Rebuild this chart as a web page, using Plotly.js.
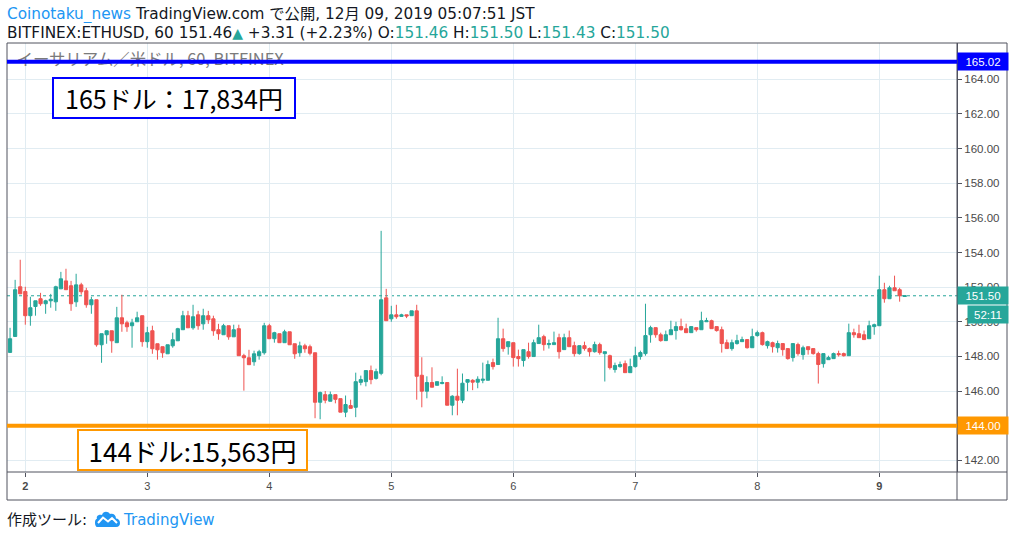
<!DOCTYPE html>
<html><head><meta charset="utf-8">
<script src="https://cdn.plot.ly/plotly-3.0.1.min.js"></script>
<style>html,body{margin:0;padding:0;background:#fff;overflow:hidden}#chart{width:1014px;height:537px}</style>
</head><body><div id="chart"></div>
<script>
// ---- data (ETHUSD, BITFINEX, 60 min) ----
const firstCandle = '2019-12-01 21:00';
const openP = [148.23,149.15,152.02,151.75,150.35,150.88,151.33,151.04,151.21,151.15,151.90,152.36,152.08,151.15,152.13,151.79,150.98,151.27,148.67,149.25,
149.48,148.79,150.23,149.94,149.77,150.00,150.35,148.85,149.48,148.73,148.56,148.15,148.61,148.90,149.54,150.35,149.65,150.40,149.88,150.35,
150.17,149.54,149.25,149.77,149.13,149.60,148.04,147.92,147.69,148.04,148.21,149.77,149.02,149.31,148.79,149.42,148.73,148.21,148.61,148.56,
148.21,145.35,145.79,145.41,145.79,145.56,144.78,145.16,145.06,146.50,146.54,147.18,146.73,147.02,151.38,150.17,150.40,150.31,150.40,150.35,
150.63,146.91,145.99,146.49,146.33,146.43,146.49,145.18,145.70,145.47,146.51,146.62,146.51,146.62,146.62,147.64,147.53,149.02,148.56,148.79,
147.99,147.76,148.27,147.99,148.74,149.14,148.68,148.68,149.08,148.39,149.08,148.62,148.16,148.62,148.45,148.27,148.68,148.16,148.04,147.24,
147.41,147.58,147.06,147.41,147.99,148.16,149.25,149.66,149.25,148.91,149.25,149.49,149.72,149.60,149.37,149.66,149.54,150.00,150.06,149.72,
149.54,148.79,148.45,148.74,148.85,148.97,148.50,149.20,149.37,148.62,148.79,148.50,148.74,148.45,147.93,148.68,148.10,148.56,148.45,148.16,
147.58,147.81,147.87,148.16,148.16,148.04,149.37,149.31,149.25,149.02,149.72,149.77,151.85,151.33,151.96,151.85,151.46];
const highP = [149.65,152.42,153.58,152.02,151.44,151.21,151.67,151.27,151.61,152.08,152.88,153.06,152.36,152.77,152.25,151.96,151.44,151.27,149.31,149.48,
149.48,150.86,151.56,150.06,150.17,150.58,150.35,149.71,149.77,148.73,148.56,148.67,149.37,149.65,150.63,150.63,150.98,150.63,150.75,150.63,
150.35,149.88,149.88,149.77,149.83,149.83,148.15,148.38,148.33,148.38,149.94,149.88,149.42,149.31,149.54,149.42,148.73,148.85,148.73,148.68,
148.21,145.97,146.00,145.97,145.79,145.56,145.74,145.50,147.06,146.89,147.18,147.47,147.29,155.25,151.90,150.92,150.98,150.46,150.40,150.63,
150.98,147.95,146.85,147.37,146.54,146.85,146.49,145.76,147.29,147.01,146.66,146.68,146.85,147.64,147.76,147.87,150.23,149.60,148.85,148.79,
148.39,148.39,148.79,148.97,149.83,149.25,148.97,149.43,149.31,149.31,149.49,148.85,148.62,148.85,148.51,148.85,148.79,148.27,148.10,147.64,
147.70,147.76,147.87,148.56,148.33,151.04,149.77,149.66,149.37,149.49,150.06,150.00,150.18,149.89,149.72,149.66,150.58,150.23,150.12,149.72,
149.72,148.97,148.97,149.25,149.14,148.97,149.60,149.49,149.43,148.91,148.85,148.91,148.74,148.45,148.74,148.79,148.62,148.56,148.45,148.27,
148.16,148.04,148.22,148.33,148.22,149.89,149.60,149.83,149.49,150.06,149.89,152.66,152.25,152.08,152.66,151.96,151.50];
const lowP = [148.20,149.15,151.60,149.83,149.77,150.35,150.92,150.46,150.81,150.63,151.90,151.85,150.63,150.86,151.56,150.81,150.46,148.56,147.63,148.73,
148.21,148.79,149.42,149.42,148.50,150.00,148.56,148.50,148.15,147.81,147.92,148.15,148.50,148.90,149.54,149.65,149.54,149.54,149.54,149.88,
149.19,148.96,149.25,148.96,149.13,148.04,146.02,147.52,147.46,147.81,148.10,149.02,148.79,148.79,148.79,148.67,147.86,147.98,148.21,148.06,
144.43,144.37,145.29,145.41,145.29,144.78,144.49,145.00,144.49,146.33,146.27,146.39,146.66,146.91,150.06,150.00,150.17,150.29,150.21,150.35,
145.50,145.06,145.58,146.22,146.33,146.39,145.18,144.60,144.60,145.30,145.99,146.05,146.16,146.45,146.62,147.24,147.53,148.27,148.10,147.41,
147.41,147.41,147.87,147.99,148.74,148.33,148.45,148.68,147.87,148.39,148.56,147.99,148.10,148.33,147.99,148.22,148.10,146.55,147.24,147.06,
147.35,147.06,147.06,147.35,147.81,148.04,148.79,149.08,148.85,148.91,149.25,148.97,149.49,149.37,149.37,149.43,149.54,150.00,149.60,149.43,
148.22,148.45,148.33,148.68,148.85,148.45,148.50,149.14,148.62,148.45,148.22,148.22,148.04,147.81,147.70,148.04,147.81,148.10,148.10,146.43,
147.35,147.81,147.87,147.99,147.99,148.04,149.08,149.08,148.97,149.02,149.25,149.77,151.10,151.33,151.79,151.16,151.43];
const closeP = [149.02,151.85,151.61,150.35,150.81,151.21,151.04,151.21,151.30,152.02,152.48,151.85,151.04,152.13,151.73,150.98,151.27,148.67,149.31,149.48,
148.90,150.23,149.88,149.71,149.94,150.23,148.85,149.37,148.44,148.38,148.21,148.67,148.96,149.60,150.35,149.65,150.29,149.77,150.35,150.11,
149.48,149.31,149.77,149.13,149.54,148.04,147.92,147.52,148.15,148.27,149.77,149.02,149.37,148.79,149.42,148.67,148.15,148.61,148.44,148.18,
145.35,145.91,145.47,145.79,145.52,144.78,145.22,145.00,146.54,146.66,147.18,146.66,147.12,151.27,150.06,150.40,150.29,150.40,150.33,150.63,
146.85,145.99,146.49,146.22,146.54,146.49,145.18,145.70,145.47,146.45,146.66,146.51,146.68,146.68,147.53,147.41,149.02,148.45,148.85,147.93,
147.87,148.39,147.99,148.79,149.08,148.68,148.74,148.79,148.27,149.08,148.56,148.16,148.62,148.45,148.27,148.68,148.22,148.27,147.35,147.47,
147.53,147.06,147.41,148.04,148.22,149.20,149.66,149.25,148.91,149.25,149.54,149.72,149.54,149.37,149.72,149.54,150.06,150.06,149.60,149.49,
148.74,148.45,148.79,148.91,148.97,148.50,149.14,149.37,148.68,148.85,148.56,148.74,148.39,147.87,148.74,148.16,148.50,148.39,148.16,147.53,
148.16,147.93,148.16,148.10,148.04,149.37,149.25,149.08,148.97,149.77,149.83,151.85,151.33,151.96,151.79,151.50,151.50];
const dayTicks = ['2019-12-02','2019-12-03','2019-12-04','2019-12-05','2019-12-06','2019-12-07','2019-12-08','2019-12-09'];
const dayLabels = ['2','3','4','5','6','7','8','9'];
const boldDays = ['2','9'];
const priceTicks = [142,144,146,148,150,152,154,156,158,160,162,164];
const levelPrices = [165.02, 144.00];
const levelColors = ['#0000ff', '#ff9800'];
const levelNotes = ['165ドル：17,834円', '144ドル:15,563円'];
const countdown = '52:11';
const quoteChange = '+3.31 (+2.23%)';
const headerLine1 = 'TradingView.com で公開, 12月 09, 2019 05:07:51 JST';
const author = 'Coinotaku_news';
const symbolText = 'BITFINEX:ETHUSD, 60';
const watermark = 'イーサリアム／米ドル, 60, BITFINEX';

// ---- build ----
const UP = '#26a69a', DOWN = '#ef5350';
const t0 = Date.parse(firstCandle.replace(' ', 'T') + ':00Z');
const times = openP.map((_, i) => new Date(t0 + i * 3600000).toISOString().slice(0, 16).replace('T', ' '));
const last = openP.length - 1;
const lastPrice = closeP[last];
const fmt = v => v.toFixed(2);

// page geometry helpers (pixels -> paper)
const L = 7, R = 957, T = 43, B = 472;
const px = x => (x - L) / (R - L);
const py = y => (B - y) / (B - T);

const candles = {
  type: 'candlestick', x: times, open: openP, high: highP, low: lowP, close: closeP,
  increasing: {line: {color: UP, width: 1}, fillcolor: UP},
  decreasing: {line: {color: DOWN, width: 1}, fillcolor: DOWN},
  whiskerwidth: 0, hoverinfo: 'skip', showlegend: false
};
const wm = {
  type: 'scatter', mode: 'text', x: [px(16.5)], y: [py(61)], text: [watermark],
  textposition: 'middle right', xaxis: 'x2', yaxis: 'y2', cliponaxis: false,
  textfont: {family: 'Noto Sans CJK JP', size: 16.4, color: '#7b7b7b'}, hoverinfo: 'skip', showlegend: false
};

const frameColor = '#50535e';
const shapes = [];
const line = (x0, y0, x1, y1, c, w, layer) => shapes.push({type: 'line', xref: 'paper', yref: 'paper', x0, y0, x1, y1, line: {color: c, width: w}, layer: layer || 'above'});
line(0, 1, px(1007), 1, frameColor, 1);
line(0, 0, px(1007), 0, frameColor, 1);
line(0, py(500), px(1007), py(500), frameColor, 1);
line(0, py(500), 0, 1, frameColor, 1);
line(1, py(500), 1, 1, frameColor, 1);
line(px(1007), py(500), px(1007), 1, frameColor, 1);
// last price dotted line
shapes.push({type: 'line', xref: 'paper', yref: 'y', x0: 0, x1: 1, y0: lastPrice, y1: lastPrice, line: {color: UP, width: 1, dash: 'dot'}, layer: 'between'});
// horizontal levels
levelPrices.forEach((p, i) => shapes.push({type: 'line', xref: 'paper', yref: 'y', x0: 0, x1: 1, y0: p, y1: p, line: {color: levelColors[i], width: 4}, layer: 'above'}));
// TradingView logo
shapes.push({type: 'path', xref: 'paper', yref: 'paper', xsizemode: 'pixel', ysizemode: 'pixel', xanchor: px(95), yanchor: py(527),
  path: 'M 2,0 L 21,0 C 24,0 25,2 25,4 C 25,7 23,8.5 21,8.5 C 21,12 18,14 15,13 C 13,16 8,16 7,12 C 4,13 1,11 2,8.5 C 0,7.5 0,5.5 0,4 C 0,2 1,0 2,0 Z',
  fillcolor: '#2196f3', line: {width: 0}, layer: 'above'});
shapes.push({type: 'path', xref: 'paper', yref: 'paper', xsizemode: 'pixel', ysizemode: 'pixel', xanchor: px(95), yanchor: py(527),
  path: 'M 3,4 L 8,9.5 L 13,5.5 L 17,9 L 22,4', line: {color: '#ffffff', width: 2}, layer: 'above'});

const hdrFam = 'DejaVu Sans, Noto Sans CJK JP';
const teal = s => `<span style="color:${UP}">${s}</span>`;
const annotations = [
  {xref: 'paper', yref: 'paper', x: px(5), y: py(14.5), xanchor: 'left', yanchor: 'middle', showarrow: false,
   font: {family: hdrFam, size: 15.3, color: '#131722'}, height: 17,
   text: `<span style="color:#2196f3">${author}</span> ${headerLine1}`},
  {xref: 'paper', yref: 'paper', x: px(5), y: py(32.5), xanchor: 'left', yanchor: 'middle', showarrow: false,
   font: {family: hdrFam, size: 15.3, color: '#131722'}, height: 16,
   text: `${symbolText} ${fmt(openP[last])}${teal('<span style="font-size:14px">▲</span>')} ${quoteChange} O:${teal(fmt(openP[last]))} H:${teal(fmt(highP[last]))} L:${teal(fmt(lowP[last]))} C:${teal(fmt(closeP[last]))}`},
  {xref: 'paper', yref: 'paper', x: px(5), y: py(520), xanchor: 'left', yanchor: 'middle', showarrow: false,
   font: {family: hdrFam, size: 15, color: '#131722'}, text: '作成ツール:'},
  {xref: 'paper', yref: 'paper', x: px(121), y: py(520), xanchor: 'left', yanchor: 'middle', showarrow: false,
   font: {family: hdrFam, size: 15, color: '#2196f3'}, text: 'TradingView'},
  // notes boxes
  {xref: 'paper', yref: 'paper', x: px(173.7), y: py(97.8), xanchor: 'center', yanchor: 'middle', showarrow: false,
   text: levelNotes[0], font: {family: 'Noto Sans CJK JP', size: 25, color: '#000'}, bgcolor: '#fff',
   bordercolor: levelColors[0], borderwidth: 2, borderpad: 0, width: 240, height: 38},
  {xref: 'paper', yref: 'paper', x: px(192), y: py(450.2), xanchor: 'center', yanchor: 'middle', showarrow: false,
   text: levelNotes[1], font: {family: 'Noto Sans CJK JP', size: 26, color: '#000'}, bgcolor: '#fff',
   bordercolor: levelColors[1], borderwidth: 2, borderpad: 0, width: 227, height: 38},
];
// price tags on right axis
levelPrices.concat([lastPrice]).forEach((p, i) => annotations.push({
  xref: 'paper', yref: 'y', x: 1, y: p, xanchor: 'left', yanchor: 'middle', showarrow: false,
  text: fmt(p), bgcolor: i < 2 ? levelColors[i] : UP, font: {family: 'Liberation Sans', size: 11.5, color: '#fff'},
  width: 50, height: 17, borderpad: 0
}));
annotations.push({xref: 'paper', yref: 'y', x: px(966.7), y: lastPrice, yshift: -19, xanchor: 'left', yanchor: 'middle', showarrow: false,
  text: countdown, bgcolor: UP, font: {family: 'Liberation Sans', size: 11.5, color: '#fff'}, width: 40, height: 17, borderpad: 0});

const layout = {
  width: 1014, height: 537, margin: {l: L, r: 1014 - R, t: T, b: 537 - B, pad: 0},
  paper_bgcolor: '#fff', plot_bgcolor: '#fff', showlegend: false, boxgap: 0.1, dragmode: false,
  xaxis: {type: 'date', range: ['2019-12-01 20:24', '2019-12-09 15:17'], tickvals: dayTicks,
    ticktext: dayLabels.map(d => boldDays.includes(d) ? `<b>${d}</b>` : d),
    ticks: 'outside', ticklen: 4, tickcolor: frameColor, gridcolor: '#e1ecf2', showline: false, zeroline: false,
    tickfont: {family: 'Liberation Sans', size: 11, color: '#4a4a4a'}, rangeslider: {visible: false}, fixedrange: true},
  yaxis: {side: 'right', range: [141.324, 166.096], tickvals: priceTicks, ticktext: priceTicks.map(fmt), ticks: 'outside', ticklen: 4,
    tickcolor: frameColor, gridcolor: '#e1ecf2', showline: true, linecolor: frameColor, zeroline: false,
    tickfont: {family: 'Liberation Sans', size: 11.5, color: '#4a4a4a'}, fixedrange: true},
  xaxis2: {overlaying: 'x', range: [0, 1], visible: false, fixedrange: true},
  yaxis2: {overlaying: 'y', range: [0, 1], visible: false, fixedrange: true},
  shapes, annotations
};
Plotly.newPlot('chart', [candles, wm], layout, {displayModeBar: false, staticPlot: true});
</script></body></html>
